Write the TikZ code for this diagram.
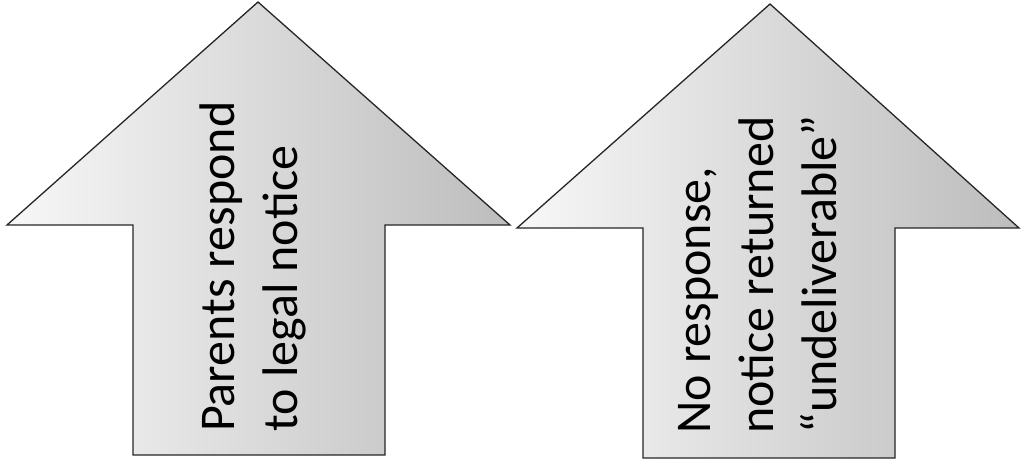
\documentclass[tikz,border=0pt]{standalone}
\usepackage{fontspec}
\newfontfamily\labelfont{Carlito}
\begin{document}
\begin{tikzpicture}[x=1pt,y=-1pt,
  arrowshape/.style={draw=black!85, line width=1.3pt, line join=miter,
    left color=gray!6, right color=gray!52, shading angle=90},
  arrowlabel/.style={rotate=90, anchor=north west, inner sep=0pt, align=left,
    font=\labelfont\fontsize{50}{63}\selectfont, text=black}]
\useasboundingbox (0,0) rectangle (1021,474);
% left arrow
\path[arrowshape] (258,2) -- (510,225) -- (385,225) -- (385,455) -- (133,455) -- (133,225) -- (7,225) -- cycle;
% right arrow
\path[arrowshape] (770,4) -- (1019,228) -- (895,228) -- (895,458) -- (643,458) -- (643,228) -- (517,228) -- cycle;
\node[arrowlabel] (respond) at (200,432) {Parents respond\\to legal notice};
\node[arrowlabel] (noresp) at (678,434) {No response,\\notice returned\\“undeliverable”};
\end{tikzpicture}
\end{document}
